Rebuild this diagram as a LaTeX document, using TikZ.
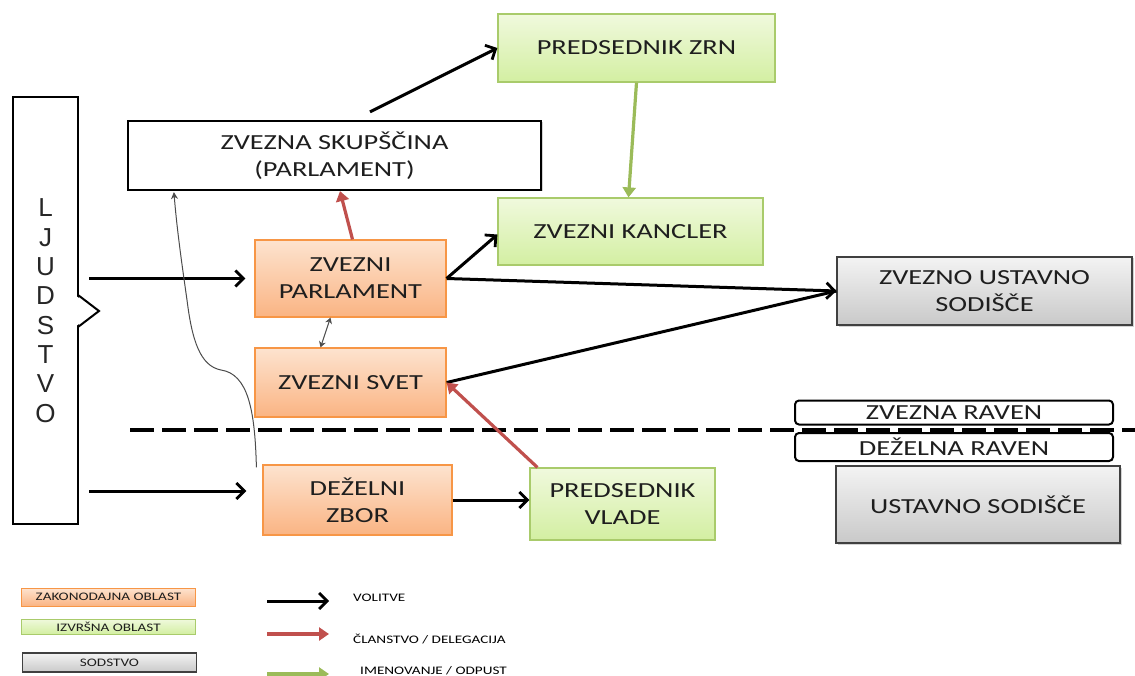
\documentclass[tikz,border=0pt]{standalone}
\usepackage{fontspec}
\setmainfont{Carlito}[FakeStretch=1.32]
\newfontfamily\lettersfont{Liberation Sans}
\usetikzlibrary{arrows.meta,shadows,calc}

\definecolor{orfill1}{HTML}{FDE3CF}
\definecolor{orfill2}{HTML}{FAB483}
\definecolor{ordraw}{HTML}{F79646}
\definecolor{grfill1}{HTML}{F0F9DD}
\definecolor{grfill2}{HTML}{D3EFA2}
\definecolor{grdraw}{HTML}{A9CB6B}
\definecolor{gyfill1}{HTML}{F3F3F3}
\definecolor{gyfill2}{HTML}{C9C9C9}
\definecolor{gydraw}{HTML}{404040}
\definecolor{redarrow}{HTML}{C0504D}
\definecolor{greenarrow}{HTML}{9BBB59}
\definecolor{txt}{HTML}{1E1E1E}

\tikzset{
  base/.style={rectangle, inner sep=0pt, align=center, text=txt,
    font=\fontsize{21.5}{27}\selectfont},
  legis/.style={base, draw=ordraw, line width=1.2pt, top color=orfill1, bottom color=orfill2},
  exec/.style={base, draw=grdraw, line width=1.2pt, top color=grfill1, bottom color=grfill2},
  judic/.style={base, draw=gydraw, line width=1.2pt, top color=gyfill1, bottom color=gyfill2,
    drop shadow={shadow xshift=1.5pt, shadow yshift=-1.5pt, opacity=0.35}},
  plain/.style={base, draw=black, line width=2.2pt, fill=white,
    drop shadow={shadow xshift=1.5pt, shadow yshift=-1.5pt, opacity=0.35}},
  level/.style={base, draw=black, line width=2pt, fill=white, rounded corners=4pt},
  vote/.style={draw=black, line width=3pt,
    -{Straight Barb[length=8pt,width=16pt,line width=2.8pt]}},
  member/.style={draw=redarrow, line width=3.2pt,
    -{Triangle[length=10pt,width=13pt]}},
  appoint/.style={draw=greenarrow, line width=3.2pt,
    -{Triangle[length=10pt,width=13pt]}},
  thinlink/.style={draw=black!70, line width=1pt},
  legbox/.style={rectangle, inner sep=0pt, minimum width=174pt, align=center,
    text=txt, font=\fontsize{11.5}{12}\selectfont},
  leglabel/.style={anchor=west, inner sep=0pt, text=black,
    font=\fontsize{11.5}{12}\selectfont}
}

\begin{document}
\begin{tikzpicture}[x=1pt,y=-1pt]
\useasboundingbox (0,0) rectangle (1135,676);
\clip (0,0) rectangle (1135,676);

% people column
\node[draw=black, line width=2pt, fill=white, minimum width=65pt, minimum height=427pt,
      inner sep=0pt] (lj) at (45.5,310.5) {};
\foreach \ch [count=\i] in {L,J,U,D,S,T,V,O}
  \node[inner sep=0pt, font=\lettersfont\fontsize{26}{26}\selectfont, text=black!85]
    at (45.5,{208+29.3*(\i-1)}) {\ch};
\fill[white] (76,296) -- (99,311) -- (76,326) -- cycle;
\draw[line width=2pt, line join=miter] (78,295) -- (99,311) -- (78,327);

% federal level
\node[plain, minimum width=413pt, minimum height=69pt] (skup) at (334.5,155.5)
  {ZVEZNA SKUPŠČINA\\(PARLAMENT)};
\node[exec, minimum width=277pt, minimum height=68pt] (pzrn) at (636.5,48) {PREDSEDNIK  ZRN};
\node[exec, minimum width=265pt, minimum height=67pt] (kanc) at (630.5,231.5) {ZVEZNI KANCLER};
\node[legis, minimum width=191pt, minimum height=77pt] (zpar) at (350.5,278.5) {ZVEZNI\\PARLAMENT};
\node[legis, minimum width=191pt, minimum height=69pt] (zsvet) at (350.5,382.5) {ZVEZNI SVET};
\node[judic, minimum width=295pt, minimum height=68pt] (zus) at (984.5,291) {ZVEZNO USTAVNO\\SODIŠČE};

% level separator
\draw[line width=4pt, dash pattern=on 24pt off 8pt] (130,430) -- (1135,430);
\node[level, minimum width=318pt, minimum height=24pt] (zrav) at (954,412.5) {ZVEZNA RAVEN};
\node[level, minimum width=318pt, minimum height=28pt] (drav) at (954,447) {DEŽELNA RAVEN};

% state level
\node[judic, minimum width=284pt, minimum height=77pt] (us) at (978,504.5) {USTAVNO SODIŠČE};
\node[legis, minimum width=189pt, minimum height=70pt] (dzbor) at (357.5,500) {DEŽELNI\\ZBOR};
\node[exec, minimum width=185pt, minimum height=72pt] (pvlade) at (622.5,504) {PREDSEDNIK\\VLADE};

% connectors
\draw[vote, shorten <=10pt, shorten >=9pt] (lj.east |- zpar.west) -- (zpar.west);
\draw[vote, shorten <=10pt, shorten >=16pt] ([yshift=9pt]lj.east |- dzbor.west) -- ([yshift=9pt]dzbor.west);
\draw[vote] ([xshift=35.5pt,yshift=8pt]skup.north) -- (pzrn.west);
\draw[appoint] (pzrn.south) -- ([xshift=-2pt]kanc.north);
\draw[member] ([xshift=2pt]zpar.north) -- ([xshift=5.5pt]skup.south);
\draw[vote] (zpar.east) -- ([yshift=-3pt]kanc.west);
\draw[vote] (zpar.east) -- (zus.west);
\draw[vote, -] (zsvet.east) -- (zus.west);
\draw[member] ([xshift=8pt]pvlade.north west) -- (zsvet.east);
\draw[vote] (dzbor.east) -- (dzbor.east -| pvlade.west);
\draw[thinlink, {Stealth[length=6pt,width=7pt]}-{Stealth[length=6pt,width=7pt]}]
  ([xshift=-20pt]zpar.south) -- ([xshift=-30pt]zsvet.north);
\draw[thinlink, -{Stealth[length=7pt,width=7pt]}]
  ([xshift=-6pt,yshift=-3pt]dzbor.north west)
  .. controls (255,410) and (248,374) .. (221,370)
  .. controls (200,366) and (192,340) .. (187,300)
  .. controls (182,265) and (177,230) .. ([xshift=47pt,yshift=-1pt]skup.south west);

% key
\node[legbox, draw=ordraw, line width=1pt, top color=orfill1, bottom color=orfill2,
      minimum height=18pt] (k1) at (108.5,597) {ZAKONODAJNA OBLAST};
\node[legbox, draw=grdraw, line width=1pt, top color=grfill1, bottom color=grfill2,
      minimum height=15pt] (k2) at (108.5,626.5) {IZVRŠNA OBLAST};
\node[legbox, draw=gydraw, line width=1.2pt, top color=gyfill1, bottom color=gyfill2,
      minimum height=19pt] (k3) at (109.5,662.5) {SODSTVO};

\coordinate (a1) at (267,601);  \coordinate (b1) at (329,601);
\coordinate (a2) at (267,634);  \coordinate (b2) at (329,634);
\coordinate (a3) at (267,674);  \coordinate (b3) at (329,674);
\draw[vote] (a1) -- (b1);
\draw[member, line width=3.5pt] (a2) -- (b2);
\draw[appoint, line width=3.5pt] (a3) -- (b3);
\node[leglabel] (l1) at (353,598) {VOLITVE};
\node[leglabel] (l2) at (353,639) {ČLANSTVO / DELEGACIJA};
\node[leglabel] (l3) at (360,671) {IMENOVANJE / ODPUST};
\end{tikzpicture}
\end{document}
